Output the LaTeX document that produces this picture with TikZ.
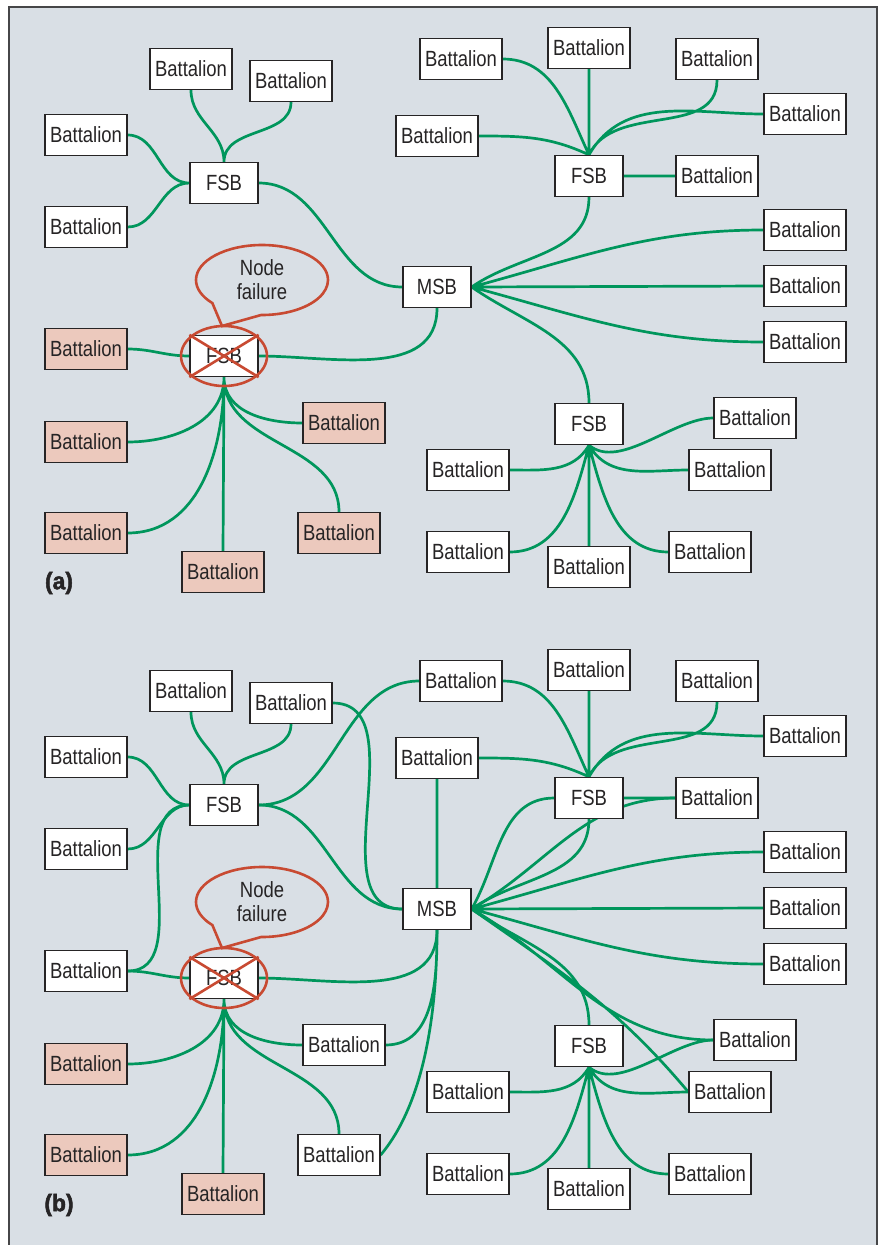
\documentclass[tikz,border=0pt]{standalone}
\usepackage{fontspec}
\setmainfont{Liberation Sans}[FakeStretch=0.84]
\newfontfamily\tagfont{Liberation Sans Bold}[FakeBold=2, FakeStretch=0.95]
\usetikzlibrary{shapes.callouts}
\definecolor{panelgray}{RGB}{217,223,229}
\definecolor{edgegray}{RGB}{70,70,72}
\definecolor{inkgray}{RGB}{38,36,37}
\definecolor{linkgreen}{RGB}{0,150,92}
\definecolor{failred}{RGB}{200,74,50}
\definecolor{cutpink}{RGB}{236,201,189}
\pgfdeclarelayer{background}
\pgfdeclarelayer{links}
\pgfsetlayers{background,links,main}
\tikzset{
  unit/.style={draw=inkgray, line width=1.3pt, fill=white, text=inkgray,
    inner sep=0pt, minimum height=41pt, font=\fontsize{22}{24}\selectfont},
  bat/.style={unit, minimum width=82pt},
  cut/.style={bat, fill=cutpink},
  base/.style={unit, minimum width=68pt},
  link/.style={draw=linkgreen, line width=2.7pt},
  fail/.style={draw=failred, line width=2.6pt},
  bubble/.style={ellipse callout, fail, text=inkgray, align=center,
    minimum width=132pt, minimum height=70pt, inner sep=0pt,
    callout pointer arc=48, font=\fontsize{22}{24}\selectfont},
  tag/.style={text=inkgray, font=\tagfont\fontsize{24}{28}\selectfont}
}

\begin{document}
\begin{tikzpicture}[x=1pt, y=-1pt]
\useasboundingbox (0,0) rectangle (880,1245);
\begin{pgfonlayer}{background}
  \fill[panelgray] (9,7) rectangle (877,1245);
  \draw[edgegray, line width=1.2pt] (9,1245) -- (9,7) -- (877,7) -- (877,1245);
\end{pgfonlayer}

\foreach \p/\dy/\lost in {a/0/cut, b/622/bat} {
\begin{scope}[shift={(0,\dy)}]
  % first FSB and the failed one
  \node[bat] (\p-1) at (191,69) {Battalion};
  \node[bat] (\p-2) at (291,81) {Battalion};
  \node[bat] (\p-3) at (86,135) {Battalion};
  \node[bat] (\p-4) at (86,227) {Battalion};
  \node[base] (\p-fw) at (224,183) {FSB};
  \node[base] (\p-fx) at (224,356) {FSB};
  \node[\lost] (\p-5) at (86,349) {Battalion};
  \node[cut] (\p-6) at (86,442) {Battalion};
  \node[cut] (\p-7) at (86,533) {Battalion};
  \node[cut] (\p-8) at (223,572) {Battalion};
  \node[\lost] (\p-9) at (344,423) {Battalion};
  \node[\lost] (\p-10) at (339,533) {Battalion};
  \node[base] (\p-msb) at (437,287) {MSB};
  % second FSB
  \node[base] (\p-fn) at (589,176) {FSB};
  \node[bat] (\p-11) at (461,59) {Battalion};
  \node[bat] (\p-12) at (589,48) {Battalion};
  \node[bat] (\p-13) at (717,59) {Battalion};
  \node[bat] (\p-14) at (805,114) {Battalion};
  \node[bat] (\p-15) at (437,136) {Battalion};
  \node[bat] (\p-16) at (717,176) {Battalion};
  \node[bat] (\p-17) at (805,230) {Battalion};
  \node[bat] (\p-18) at (805,286) {Battalion};
  \node[bat] (\p-19) at (805,342) {Battalion};
  % third FSB
  \node[base] (\p-fs) at (589,424) {FSB};
  \node[bat] (\p-20) at (755,418) {Battalion};
  \node[bat] (\p-21) at (730,470) {Battalion};
  \node[bat] (\p-22) at (468,470) {Battalion};
  \node[bat] (\p-23) at (468,552) {Battalion};
  \node[bat] (\p-24) at (589,567) {Battalion};
  \node[bat] (\p-25) at (710,552) {Battalion};

  \begin{pgfonlayer}{links}
  \draw[link] (\p-1.south) to[out=-90, in=90] (\p-fw.north)
              (\p-2.south) to[out=-90, in=90] (\p-fw.north)
              (\p-3.east) to[out=0, in=180] (\p-fw.west)
              (\p-4.east) to[out=0, in=180] (\p-fw.west)
              (\p-fw.east) to[out=0, in=180] (\p-msb.west);
  \draw[link] (\p-5.east) to[out=0, in=180] (\p-fx.west)
              (\p-fx.east) to[out=0, in=-90] (\p-msb.south)
              (\p-fx.south) to[out=-90, in=0] (\p-6.east)
              (\p-fx.south) to[out=-90, in=0] (\p-7.east)
              (\p-fx.south) -- (\p-8.north)
              (\p-fx.south) to[out=-90, in=180] (\p-9.west)
              (\p-fx.south) to[out=-90, in=90] (\p-10.north);
  \draw[link] (\p-msb.east) to[out=35, in=-90] (\p-fn.south)
              (\p-msb.east) to[out=15, in=180] (\p-17.west)
              (\p-msb.east) -- (\p-18.west)
              (\p-msb.east) to[out=-15, in=180] (\p-19.west)
              (\p-msb.east) to[out=-35, in=90] (\p-fs.north);
  \draw[link] (\p-11.east) to[out=0, in=115] (\p-fn.north)
              (\p-12.south) -- (\p-fn.north)
              (\p-13.south) to[out=-90, in=65] (\p-fn.north)
              (\p-14.west) to[out=180, in=60] (\p-fn.north)
              (\p-15.east) to[out=0, in=155] (\p-fn.north)
              (\p-fn.east) -- (\p-16.west);
  \draw[link] (\p-fs.south) to[out=-40, in=180, looseness=0.8] (\p-20.west)
              (\p-fs.south) to[out=-60, in=180] (\p-21.west)
              (\p-22.east) to[out=0, in=-120] (\p-fs.south)
              (\p-23.east) to[out=0, in=-105] (\p-fs.south)
              (\p-fs.south) -- (\p-24.north)
              (\p-25.west) to[out=180, in=-75] (\p-fs.south);
  \end{pgfonlayer}

  % failure marks
  \draw[fail] (\p-fx) ellipse [x radius=43, y radius=30];
  \draw[fail] (\p-fx.north west) -- (\p-fx.south east)
              (\p-fx.south west) -- (\p-fx.north east);
  \coordinate (\p-tip) at (222,326);
  \node[bubble, callout absolute pointer=(\p-tip)] (\p-note) at (262,280) {Node\\failure};
  \node[tag] (\p-tag) at (59,583) {(\p)};
\end{scope}
}

% new links after the failure
\begin{pgfonlayer}{links}
\draw[link] (b-fw.west) to[out=180, in=0] (b-5.east)
            (b-fw.east) to[out=0, in=180] (b-11.west)
            (b-2.east) to[out=0, in=180] (b-msb.west)
            (b-15.south) -- (b-msb.north)
            (b-msb.east) to[out=60, in=180] (b-fn.west)
            (b-msb.east) to[out=30, in=180] (b-16.west)
            (b-msb.east) to[out=-30, in=180] (b-20.west)
            (b-msb.east) to[out=-35, in=130] (b-21.west)
            (b-9.east) to[out=0, in=-90] (b-msb.south)
            (b-10.east) to[out=50, in=-90, looseness=0.8] (b-msb.south);
\end{pgfonlayer}
\end{tikzpicture}
\end{document}
